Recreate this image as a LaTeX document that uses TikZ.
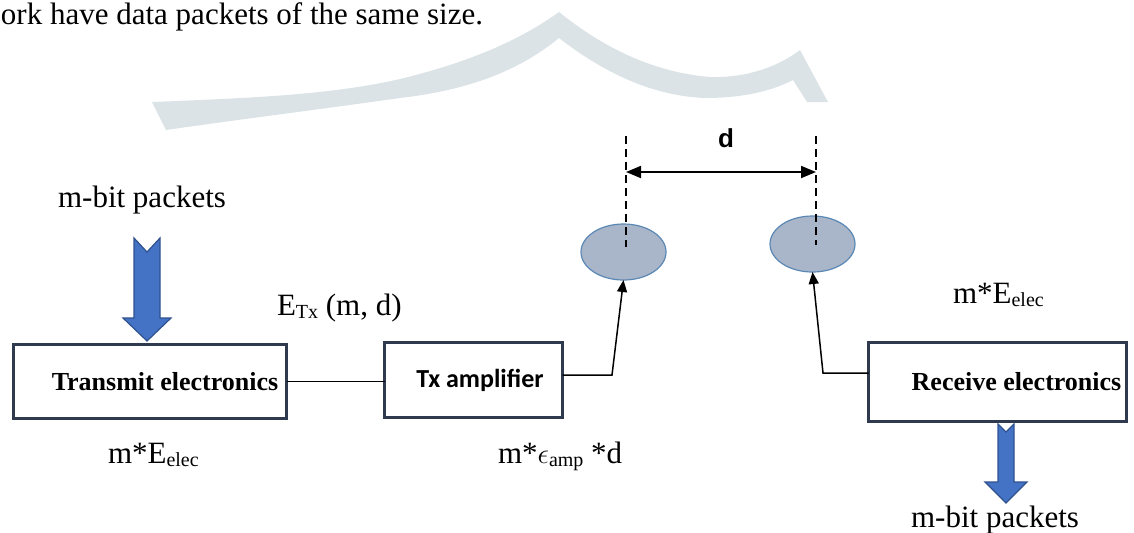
\documentclass[tikz,border=0pt]{standalone}
\usepackage{fontspec}
\setmainfont{Liberation Serif}
\newfontfamily\calibrifont{Carlito}
\newfontfamily\arialfont{Liberation Sans}
\usetikzlibrary{arrows.meta,shapes.geometric}

\definecolor{boxline}{HTML}{2F3A4E}
\definecolor{arrowblue}{HTML}{4472C4}
\definecolor{arrowedge}{HTML}{2F528F}
\definecolor{nodefill}{HTML}{A9B6C9}
\definecolor{nodeedge}{HTML}{5B87B5}
\definecolor{waterband}{HTML}{DCE3E7}

\newcommand{\lowsub}[1]{\raisebox{-1.5pt}{\fontsize{10}{10}\selectfont #1}}

\begin{document}
\begin{tikzpicture}[x=0.5pt,y=-0.5pt,
  every node/.style={inner sep=0pt, outer sep=0pt},
  plain/.style={font=\fontsize{15.5}{18}\selectfont},
  block/.style={draw=boxline, line width=1.5pt, fill=white, rectangle,
    font=\fontsize{13}{15}\selectfont\bfseries},
  antenna/.style={ellipse, draw=nodeedge, line width=0.6pt, fill=nodefill,
    minimum width=42.5pt, minimum height=28pt},
  wire/.style={line width=0.75pt, black},
  tipwire/.style={wire, -{Triangle[length=6pt,width=5pt]}},
  guide/.style={line width=0.6pt, black, dashed, dash pattern=on 4pt off 2.5pt},
  dim/.style={line width=0.9pt, black, {Triangle[length=7.5pt,width=6pt]}-{Triangle[length=7.5pt,width=6pt]}},
  bigarrow/.style={fill=arrowblue, draw=arrowedge, line width=0.6pt, line join=miter}
]
\useasboundingbox (0,0) rectangle (1134,532);

% decorative band behind the heading
\fill[waterband] (152,102) .. controls (250,98) and (330,95) .. (400,79)
  .. controls (470,62) and (520,40) .. (559,12)
  .. controls (600,45) and (650,72) .. (710,77)
  .. controls (750,78) and (780,65) .. (800,50)
  -- (828,102) -- (807,102) -- (793,80)
  .. controls (770,92) and (740,98) .. (705,98)
  .. controls (650,96) and (600,70) .. (559,38)
  .. controls (520,70) and (470,90) .. (400,98)
  .. controls (330,108) and (250,118) .. (166,130) -- cycle;

% heading line
\node[plain, anchor=base west] (head) at (1,24) {ork have data packets of the same size.};

% blocks
\node[block, minimum width=136.5pt, minimum height=37pt] (te) at (150,381.5)
  {\hspace*{15pt}Transmit electronics};
\node[block, minimum width=89pt, minimum height=37.5pt,
  font=\fontsize{13}{15}\selectfont\calibrifont\bfseries] (tx) at (473.5,380)
  {\hspace*{6.5pt}Tx amplifier};
\node[block, minimum width=129pt, minimum height=39.5pt] (re) at (997.5,382)
  {\hspace*{19pt}Receive electronics};

% antennas
\node[antenna] (e1) at (623.5,252) {};
\node[antenna] (e2) at (812.5,244) {};

% distance between antennas
\coordinate (g1t) at (626,136);
\coordinate (g1b) at (626,247);
\coordinate (g2t) at (816,136);
\coordinate (g2b) at (816,245);
\draw[guide] (g1t) -- (g1b);
\draw[guide] (g2t) -- (g2b);
\coordinate (dimL) at (626,172);
\coordinate (dimR) at (816,172);
\draw[dim] (dimL) -- (dimR);
\node[font=\fontsize{13}{15}\selectfont\arialfont\bfseries, anchor=base] (dlab) at (726,147) {d};

% wiring
\draw[wire] (te.east) -- (te.east -| tx.west);
\coordinate (k1) at (612,375);
\draw[tipwire] (tx.east |- k1) -- (k1) -- (e1.south);
\coordinate (k2) at (823,373);
\draw[tipwire] (re.west |- k2) -- (k2) -- (e2.south);

% packet arrows
\draw[bigarrow] (134,238) -- (147,252) -- (160,238) -- (160,318) -- (171,318)
  -- (147,341) -- (123,318) -- (134,318) -- cycle;
\draw[bigarrow] (998,424) -- (1006,432) -- (1014,424) -- (1014,482) -- (1027,482)
  -- (1006,503) -- (985,482) -- (998,482) -- cycle;

% labels
\node[plain, anchor=base] (inpk) at (142,207) {m-bit packets};
\node[plain, anchor=base] (outpk) at (995,527) {m-bit packets};
\node[plain, anchor=base west] (etx) at (277,315) {E\lowsub{Tx} (m, d)};
\node[plain, anchor=base west] (erx) at (953,303) {m*E\lowsub{elec}};
\node[plain, anchor=base west] (etr) at (108,463) {m*E\lowsub{elec}};
\node[plain, anchor=base west] (eamp) at (498,463) {m*$\epsilon$\lowsub{amp} *d};
\end{tikzpicture}
\end{document}
